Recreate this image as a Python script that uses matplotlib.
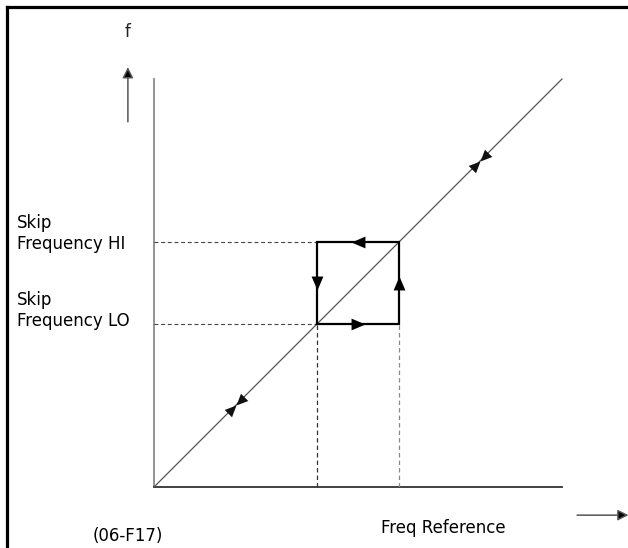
import numpy as np
import matplotlib
matplotlib.use('Agg')
import matplotlib.pyplot as plt
from matplotlib.lines import Line2D

# values in chart units (full scale = 10)
f_max = 10.0
skip_lo = 4.0
skip_hi = 6.0
bowtie_points = [2.0, 8.0]  # positions on the diagonal where the double arrows sit
hi_label = ['Skip', 'Frequency HI']
lo_label = ['Skip', 'Frequency LO']
x_label = 'Freq Reference'
y_label = 'f'
fig_code = '(06-F17)'


def arrow_marker(angle, width=0.8, centered=False):
    # triangle pointing along `angle` (degrees), tip at the origin unless centered
    shift = 0.5 if centered else 0.0
    pts = np.array([[0.0, 0.0], [-1.0, width / 2], [-1.0, -width / 2], [0.0, 0.0]])
    pts[:, 0] += shift
    a = np.deg2rad(angle)
    rot = np.array([[np.cos(a), -np.sin(a)], [np.sin(a), np.cos(a)]])
    return pts @ rot.T


fig = plt.figure(figsize=(6.28, 5.48), dpi=100)
ax = fig.add_axes([154 / 628, 61 / 548, 408 / 628, 408 / 548])
ax.set_xlim(0, f_max)
ax.set_ylim(0, f_max)
ax.axis('off')

# frame (only left and top edges are inside the picture)
fig.add_artist(Line2D([7 / 628, 7 / 628], [0, 1 - 7 / 548], color='black', lw=2.3))
fig.add_artist(Line2D([7 / 628, 1], [1 - 7 / 548, 1 - 7 / 548], color='black', lw=2.3))

# axes lines
ax.plot([0, 0], [0, f_max], color='#8a8a8a', lw=1.3, clip_on=False)
ax.plot([0, f_max], [0, 0], color='#333333', lw=1.3, clip_on=False)

# diagonal f = reference
ax.plot([0, f_max], [0, f_max], color='#555555', lw=0.9, clip_on=False)

# dashed guide lines
dash = (0, (3.5, 2.5))
ax.plot([0, skip_lo], [skip_hi, skip_hi], color='#444444', lw=0.8, ls=dash)
ax.plot([0, skip_lo], [skip_lo, skip_lo], color='#444444', lw=0.8, ls=dash)
ax.plot([skip_lo, skip_lo], [0, skip_lo], color='#333333', lw=0.9, ls=dash)
ax.plot([skip_hi, skip_hi], [0, skip_lo], color='#888888', lw=0.9, ls=dash)

# hysteresis square
ax.plot([skip_lo, skip_hi, skip_hi, skip_lo, skip_lo],
        [skip_lo, skip_lo, skip_hi, skip_hi, skip_lo],
        color='black', lw=1.6, solid_joinstyle='miter')
mid = (skip_lo + skip_hi) / 2
for (x, y, ang) in [(mid, skip_lo, 0), (skip_hi, mid, 90), (mid, skip_hi, 180), (skip_lo, mid, 270)]:
    ax.plot(x, y, marker=arrow_marker(ang, width=0.85, centered=True), ms=10,
            color='black', mew=0, clip_on=False)

# bowtie arrows on the diagonal
for p in bowtie_points:
    ax.plot(p, p, marker=arrow_marker(45, width=0.9), ms=17, color='#111111', mew=0)
    ax.plot(p, p, marker=arrow_marker(225, width=0.9), ms=17, color='#111111', mew=0)

# direction arrows beside the axes
ax.annotate('', xy=(-0.64, 10.29), xytext=(-0.64, 8.95), annotation_clip=False,
            arrowprops=dict(arrowstyle='-|>', color='#555555', lw=1.1,
                            mutation_scale=16, shrinkA=0, shrinkB=0, fc='black'))
ax.annotate('', xy=(11.63, -0.69), xytext=(10.37, -0.69), annotation_clip=False,
            arrowprops=dict(arrowstyle='-|>', color='#555555', lw=1.1,
                            mutation_scale=16, shrinkA=0, shrinkB=0, fc='black'))

# texts
fs = 12
ax.text(-0.66, 11.15, y_label, ha='center', va='center', fontsize=12, color='#222222')
ax.text(-3.36, skip_hi - 0.04 + 0.51, hi_label[0], ha='left', va='center', fontsize=fs)
ax.text(-3.36, skip_hi - 0.04, hi_label[1], ha='left', va='center', fontsize=fs)
ax.text(-3.36, skip_lo + 0.07 + 0.51, lo_label[0], ha='left', va='center', fontsize=fs)
ax.text(-3.36, skip_lo + 0.07, lo_label[1], ha='left', va='center', fontsize=fs)
ax.text(7.08, -1.0, x_label, ha='center', va='center', fontsize=fs)
ax.text(-0.64, -1.2, fig_code, ha='center', va='center', fontsize=fs)

fig.savefig('out.png', dpi=100)
